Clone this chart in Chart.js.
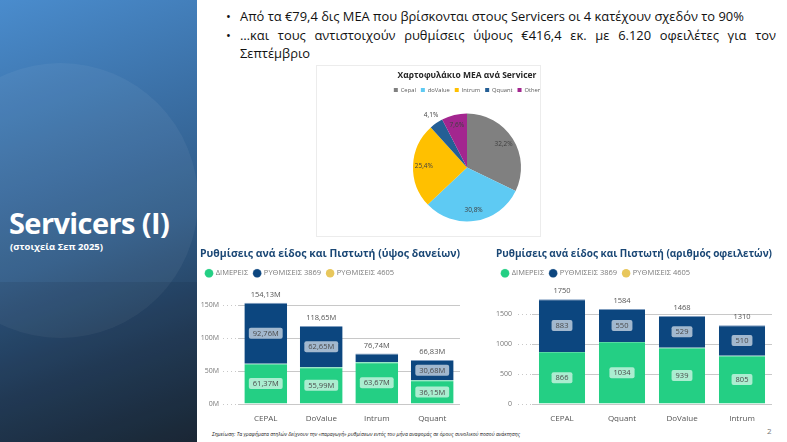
<!DOCTYPE html>
<html lang="el">
<head>
<meta charset="utf-8">
<script src="https://cdn.jsdelivr.net/npm/chart.js@4.4.1/dist/chart.umd.min.js"></script>
<style>
  html, body { margin: 0; padding: 0; }
  body { width: 787px; height: 442px; position: relative; overflow: hidden; background: #fff; font-family: 'Open Sans', sans-serif; }
  .side { position: absolute; left: 0; top: 0; width: 197px; height: 442px; overflow: hidden;
    background: linear-gradient(160deg, #4a8ccd 0%, #3b70a6 30%, #2f5a86 55%, #243e5a 78%, #1c2936 100%); }
  .side .circle { position: absolute; left: -77px; top: 63px; width: 275px; height: 275px; border-radius: 50%; background: rgba(255,255,255,0.05); }
  .side .band { position: absolute; left: 0; top: 282px; width: 197px; height: 160px; background: rgba(10,20,35,0.10); }
  .side h1 { position: absolute; left: 9px; top: 203px; margin: 0; color: #fff; font-size: 29px; font-weight: 700; letter-spacing: -0.6px; white-space: nowrap; }
  .side .sub { position: absolute; left: 10px; top: 240px; color: #fff; font-size: 9.5px; font-weight: 700; white-space: nowrap; }
  .bullets { position: absolute; left: 226px; top: 7px; width: 550px; margin: 0; padding: 0; list-style: none; font-size: 12.9px; line-height: 18.5px; color: #111; }
  .bullets li { position: relative; padding-left: 14px; text-align: justify; }
  .bullets li::before { content: '•'; position: absolute; left: 0; top: 0; }
  .piebox { position: absolute; left: 316px; top: 65px; width: 223px; height: 170px; border: 1px solid #ececec; background: #fff; }
  .piebox canvas { position: absolute; left: 64px; top: 0; }
  .chart { position: absolute; }
  .note { position: absolute; left: 212px; top: 431px; font-size: 5.1px; font-style: italic; color: #222; white-space: nowrap; }
  .page { position: absolute; left: 767px; top: 425px; font-size: 8px; color: #777; }
</style>
</head>
<body>
<div class="side">
  <div class="circle"></div>
  <div class="band"></div>
  <h1>Servicers (I)</h1>
  <div class="sub">(στοιχεία Σεπ 2025)</div>
</div>

<ul class="bullets">
  <li>Από τα €79,4 δις ΜΕΑ που βρίσκονται στους Servicers οι 4 κατέχουν σχεδόν το 90%</li>
  <li>…και τους αντιστοιχούν ρυθμίσεις ύψους €416,4 εκ. με 6.120 οφειλέτες για τον Σεπτέμβριο</li>
</ul>

<div class="piebox"><canvas id="pie" width="172" height="170"></canvas></div>
<canvas id="amount" class="chart" style="left:197px;top:240px" width="285" height="182"></canvas>
<canvas id="count" class="chart" style="left:487px;top:240px" width="300" height="182"></canvas>

<div class="note">Σημείωση: Τα γραφήματα στηλών δείχνουν την «παραγωγή» ρυθμίσεων εντός του μήνα αναφοράς σε όρους συνολικού ποσού ανάκτησης</div>
<div class="page">2</div>

<script>
// --- data ---
const pieLabels = ["Cepal", "doValue", "Intrum", "Qquant", "Other"];
const pieValues = [32.2, 30.8, 25.4, 4.1, 7.6];

const amountCats = ["CEPAL", "DoValue", "Intrum", "Qquant"];
const amountPartial = [61.37, 55.99, 63.67, 36.15];
const amount3869 = [92.76, 62.65, 13.07, 30.68];
const amount4605 = [null, null, null, null];
const amountTotals = [154.13, 118.65, 76.74, 66.83];
const amountTicks = [0, 50, 100, 150];

const countCats = ["CEPAL", "Qquant", "DoValue", "Intrum"];
const countPartial = [866, 1034, 939, 805];
const count3869 = [883, 550, 529, 510];
const count4605 = [null, null, null, null];
const countTotals = [1750, 1584, 1468, 1310];
const countTicks = [0, 500, 1000, 1500];

const seriesNames = ["ΔΙΜΕΡΕΙΣ", "ΡΥΘΜΙΣΕΙΣ 3869", "ΡΥΘΜΙΣΕΙΣ 4605"];

// --- colours ---
const pieColors = ["#808080", "#5ecaf3", "#ffc000", "#245f95", "#a3268f"];
const GREEN = "#24cf84", BLUE = "#0c467f", YELLOW = "#e8c75c";

Chart.defaults.font.family = "'Open Sans', sans-serif";
Chart.defaults.animation = false;

const comma = (v, d) => v.toFixed(d).replace(".", ",");

//! pie percentage labels
const pieLabelPlugin = {
  id: "pieLabels",
  afterDatasetsDraw(chart) {
    const ctx = chart.ctx;
    const meta = chart.getDatasetMeta(0);
    ctx.save();
    ctx.font = "6.5px 'Open Sans'";
    ctx.fillStyle = "#404040";
    ctx.textAlign = "center";
    ctx.textBaseline = "middle";
    meta.data.forEach((arc, i) => {
      const v = pieValues[i];
      const mid = (arc.startAngle + arc.endAngle) / 2;
      const r = arc.outerRadius * (v < 5 ? 1.17 : 0.8);
      ctx.fillText(comma(v, 1) + "%", arc.x + Math.cos(mid) * r, arc.y + Math.sin(mid) * r);
    });
    ctx.restore();
  }
};

new Chart(document.getElementById("pie"), {
  type: "pie",
  data: {
    labels: pieLabels,
    datasets: [{ data: pieValues, backgroundColor: pieColors, borderWidth: 0 }]
  },
  options: {
    responsive: false,
    radius: 54,
    layout: { padding: { top: 4, bottom: 4, left: 0, right: 0 } },
    plugins: {
      title: { display: true, text: "Χαρτοφυλάκιο ΜΕΑ ανά Servicer", color: "#262626",
        font: { size: 8.5, weight: "bold" }, padding: { top: 0, bottom: 2 } },
      legend: { labels: { boxWidth: 4, boxHeight: 4, padding: 5, color: "#595959", font: { size: 5.8 } } },
      tooltip: { enabled: false }
    }
  },
  plugins: [pieLabelPlugin]
});

//! stacked-bar value boxes and totals
function barLabels(totals, fmt) {
  return {
    id: "barLabels",
    afterDatasetsDraw(chart) {
      const ctx = chart.ctx;
      ctx.save();
      ctx.font = "7.5px 'Open Sans'";
      ctx.textAlign = "center";
      ctx.textBaseline = "middle";
      [0, 1].forEach(di => {
        const ds = chart.data.datasets[di];
        chart.getDatasetMeta(di).data.forEach((bar, i) => {
          const h = bar.base - bar.y;
          if (ds.data[i] == null || h < 16) return;
          const txt = fmt(ds.data[i]);
          const w = ctx.measureText(txt).width + 8;
          const cy = (bar.y + bar.base) / 2;
          ctx.fillStyle = "rgba(255,255,255,0.62)";
          ctx.beginPath();
          ctx.roundRect(bar.x - w / 2, cy - 5.5, w, 11, 2);
          ctx.fill();
          ctx.fillStyle = "#4a4a4a";
          ctx.fillText(txt, bar.x, cy + 0.5);
        });
      });
      const top = chart.getDatasetMeta(1).data;
      ctx.fillStyle = "#555";
      top.forEach((bar, i) => ctx.fillText(fmt(totals[i]), bar.x, bar.y - 8));
      ctx.restore();
    }
  };
}

function stackedChart(id, title, cats, s1, s2, s3, totals, ticks, max, fmt, tickFmt, pad, yWidth, tickLen, tickPad) {
  return new Chart(document.getElementById(id), {
    type: "bar",
    data: {
      labels: cats,
      datasets: [
        { label: seriesNames[0], data: s1, backgroundColor: GREEN, borderColor: "#56dba0", borderWidth: { top: 1, left: 0, right: 0, bottom: 0 } },
        { label: seriesNames[1], data: s2, backgroundColor: BLUE, borderColor: "#7f9dbf", borderWidth: { top: 1, left: 0, right: 0, bottom: 0 } },
        { label: seriesNames[2], data: s3, backgroundColor: YELLOW }
      ]
    },
    options: {
      responsive: false,
      layout: { padding: pad },
      datasets: { bar: { barPercentage: 0.77, categoryPercentage: 1 } },
      scales: {
        x: {
          stacked: true,
          grid: { display: false },
          border: { display: false },
          ticks: { color: "#555", font: { size: 8 }, padding: 2 },
          afterFit(s) { s.height = 18; }
        },
        y: {
          stacked: true,
          min: 0,
          max: max,
          afterBuildTicks(s) { s.ticks = ticks.map(v => ({ value: v })); },
          border: { display: false },
          grid: { color: "#c8c8c8", borderDash: [1, 3], tickBorderDash: [1, 3], tickLength: tickLen, tickColor: "#c8c8c8" },
          ticks: { color: "#777", font: { size: 7 }, padding: tickPad, callback: tickFmt },
          afterFit(s) { s.width = yWidth; }
        }
      },
      plugins: {
        title: { display: true, text: title, align: "start", color: "#1a4775",
          font: { size: 10.5, weight: "bold" }, padding: { top: 8, bottom: 3 } },
        legend: { align: "start", labels: { usePointStyle: true, pointStyle: "circle", boxWidth: 6, boxHeight: 6,
          padding: 6, color: "#7a7a7a", font: { size: 7.5 } } },
        tooltip: { enabled: false }
      }
    },
    plugins: [barLabels(totals, fmt)]
  });
}

stackedChart("amount", "Ρυθμίσεις ανά είδος και Πιστωτή (ύψος δανείων)", amountCats, amountPartial, amount3869, amount4605,
  amountTotals, amountTicks, 178, v => comma(v, 2) + "M", v => v + "M", { left: 3, right: 22, top: 0, bottom: 0 }, 38, 15, 4);

stackedChart("count", "Ρυθμίσεις ανά είδος και Πιστωτή (αριθμός οφειλετών)", countCats, countPartial, count3869, count4605,
  countTotals, countTicks, 1950, v => String(v), v => String(v), { left: 9, right: 15, top: 0, bottom: 0 }, 36, 14, 6);
</script>
</body>
</html>
